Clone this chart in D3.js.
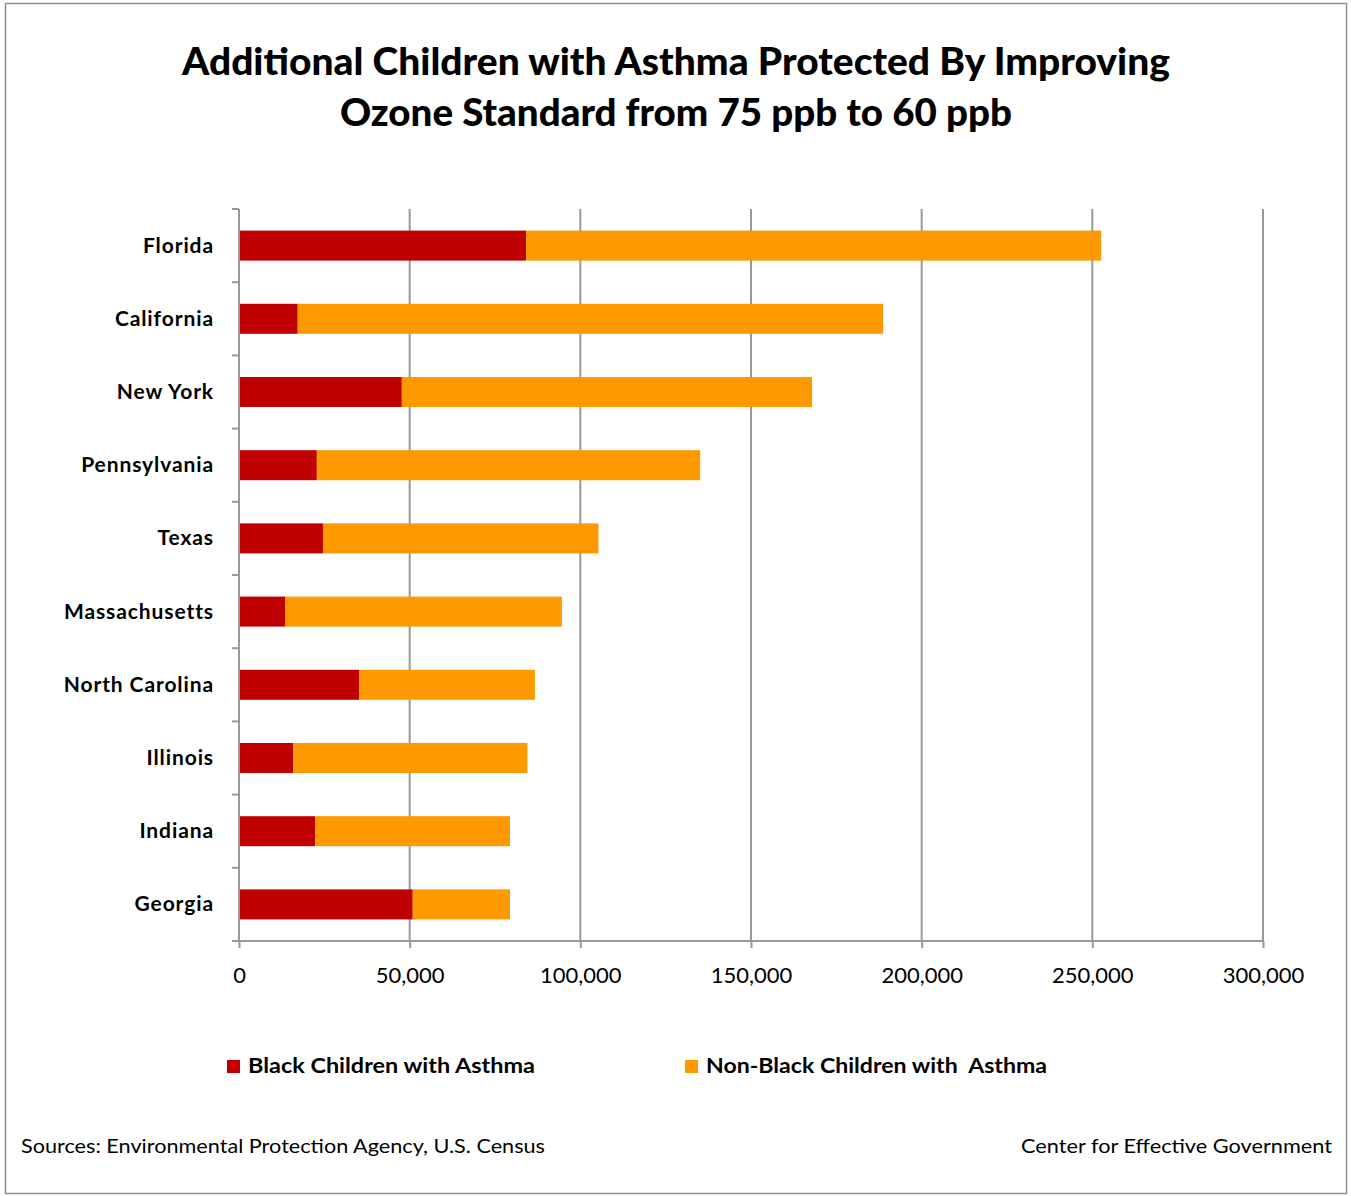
<!DOCTYPE html>
<html>
<head>
<meta charset="utf-8">
<script src="https://cdn.jsdelivr.net/npm/d3@7"></script>
<style>
  html, body { margin: 0; padding: 0; background: #fff; }
  svg { display: block; }
</style>
</head>
<body>
<svg id="chart" width="1351" height="1196"></svg>
<script>
// States, ordered top to bottom
const states = ["Florida", "California", "New York", "Pennsylvania", "Texas",
                "Massachusetts", "North Carolina", "Illinois", "Indiana", "Georgia"];
// Additional children with asthma protected, by group
const blackChildren    = [84100, 17200, 47700, 22800, 24600, 13600, 35200, 15900, 22300, 50900];
const nonBlackChildren = [168500, 171500, 120200, 112300, 80700, 81000, 51500, 68600, 57100, 28500];
const seriesNames = ["Black Children with Asthma", "Non-Black Children with  Asthma"];
const seriesColors = ["#C00000", "#FF9900"];
const xTicks = [0, 50000, 100000, 150000, 200000, 250000, 300000];
const titleLines = ["Additional Children with Asthma Protected By Improving",
                    "Ozone Standard from 75 ppb to 60 ppb"];
const sourceText = "Sources: Environmental Protection Agency, U.S. Census";
const creditText = "Center for Effective Government";

const svg = d3.select("#chart");
const FONT = "Lato, 'Open Sans', sans-serif";

// outer frame
svg.append("rect").attr("x", 5.5).attr("y", 3.5).attr("width", 1341).attr("height", 1190)
  .attr("fill", "#fff").attr("stroke", "#8c8c8c").attr("stroke-width", 1.5);

// title
const titleY = [75, 126];
const titleW = [988, 672];
titleLines.forEach((t, i) => {
  svg.append("text").attr("x", 676).attr("y", titleY[i])
    .attr("text-anchor", "middle").attr("font-family", FONT).attr("font-weight", 900)
    .attr("font-size", 37).attr("fill", "#000")
    .attr("textLength", titleW[i]).attr("lengthAdjust", "spacingAndGlyphs")
    .text(t);
});

// scales
const x = d3.scaleLinear().domain([0, 300000]).range([239, 1263]);
const y = d3.scaleBand().domain(states).range([209, 941])
  .paddingInner(0.59).paddingOuter(0.295);

// stacked data
const rows = states.map((s, i) => ({ state: s, black: blackChildren[i], nonBlack: nonBlackChildren[i] }));
const stack = d3.stack().keys(["black", "nonBlack"])(rows);

// gridlines
svg.append("g").selectAll("line").data(xTicks.slice(1)).join("line")
  .attr("x1", d => x(d)).attr("x2", d => x(d))
  .attr("y1", 209).attr("y2", 941)
  .attr("stroke", "#999").attr("stroke-width", 2);

// bars
svg.append("g").selectAll("g").data(stack).join("g")
  .attr("fill", (d, i) => seriesColors[i])
  .selectAll("rect").data(d => d).join("rect")
  .attr("x", d => x(d[0]))
  .attr("width", d => x(d[1]) - x(d[0]))
  .attr("y", d => y(d.data.state))
  .attr("height", y.bandwidth());

// y axis with category separators
const yAxisG = svg.append("g");
yAxisG.append("line").attr("x1", 239).attr("x2", 239).attr("y1", 209).attr("y2", 941)
  .attr("stroke", "#999").attr("stroke-width", 2);
const step = y.step();
const sepYs = d3.range(states.length + 1).map(i => 209 + i * step);
yAxisG.selectAll("line.sep").data(sepYs).join("line").attr("class", "sep")
  .attr("x1", 232).attr("x2", 239).attr("y1", d => d).attr("y2", d => d)
  .attr("stroke", "#999").attr("stroke-width", 2);
yAxisG.selectAll("text").data(states).join("text")
  .attr("x", 214).attr("y", d => y(d) + y.bandwidth() / 2)
  .attr("dy", "0.33em").attr("text-anchor", "end")
  .attr("font-family", FONT).attr("font-weight", 700).attr("font-size", 21)
  .attr("letter-spacing", 0.9)
  .attr("fill", "#000").text(d => d);

// x axis
const xAxis = d3.axisBottom(x).tickValues(xTicks).tickSize(7).tickPadding(19)
  .tickFormat(d3.format(","));
const xg = svg.append("g").attr("transform", "translate(0,941)").call(xAxis);
xg.select(".domain").remove();
xg.append("line").attr("x1", 232).attr("x2", 1263).attr("y1", 0).attr("y2", 0)
  .attr("stroke", "#999").attr("stroke-width", 2);
xg.selectAll(".tick line").attr("stroke", "#999").attr("stroke-width", 2);
xg.selectAll(".tick text").attr("font-family", FONT).attr("font-size", 22)
  .attr("fill", "#000");

// legend
const legendX = [227, 685];
const legendW = [287, 341];
seriesNames.forEach((name, i) => {
  svg.append("rect").attr("x", legendX[i]).attr("y", 1060).attr("width", 13).attr("height", 13)
    .attr("fill", seriesColors[i]);
  svg.append("text").attr("x", legendX[i] + 21).attr("y", 1066).attr("dy", "0.35em")
    .attr("font-family", FONT).attr("font-weight", 700).attr("font-size", 21)
    .attr("fill", "#000").attr("xml:space", "preserve")
    .attr("textLength", legendW[i]).attr("lengthAdjust", "spacingAndGlyphs")
    .text(name);
});

// footer
svg.append("text").attr("x", 21).attr("y", 1146).attr("dy", "0.35em")
  .attr("font-family", FONT).attr("font-size", 20).attr("fill", "#000")
  .attr("textLength", 524).attr("lengthAdjust", "spacingAndGlyphs")
  .text(sourceText);
svg.append("text").attr("x", 1332).attr("y", 1146).attr("dy", "0.35em")
  .attr("text-anchor", "end")
  .attr("font-family", FONT).attr("font-size", 20).attr("fill", "#000")
  .attr("textLength", 311).attr("lengthAdjust", "spacingAndGlyphs")
  .text(creditText);
</script>
</body>
</html>
